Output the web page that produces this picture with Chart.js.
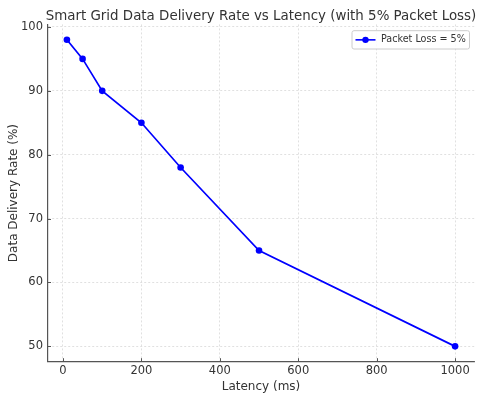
<!DOCTYPE html>
<html>
<head>
<meta charset="utf-8">
<script src="https://cdn.jsdelivr.net/npm/chart.js@4/dist/chart.umd.min.js"></script>
<style>
  html, body { margin: 0; padding: 0; background: #ffffff; }
  #c { display: block; }
</style>
</head>
<body>
<canvas id="c" width="480" height="396"></canvas>
<script>
const latency = [10, 50, 100, 200, 300, 500, 1000];
const deliveryRate = [98, 95, 90, 85, 78, 65, 50];
const seriesLabel = 'Packet Loss = 5%';
const xTicks = [0, 200, 400, 600, 800, 1000];
const yTicks = [50, 60, 70, 80, 90, 100];
const titleText = 'Smart Grid Data Delivery Rate vs Latency (with 5% Packet Loss)';
const xTitle = 'Latency (ms)';
const yTitle = 'Data Delivery Rate (%)';

const FONT = "'DejaVu Sans', sans-serif";
const TEXT = '#333333';
const SPINE = '#555555';
const LINE = '#0000ff';

const decorations = {
  id: 'decorations',
  afterDraw(chart) {
    const ctx = chart.ctx;
    const a = chart.chartArea;
    ctx.save();
    // title, centred over the plot area
    ctx.fillStyle = TEXT;
    ctx.textAlign = 'center';
    ctx.textBaseline = 'alphabetic';
    ctx.font = '13.4px ' + FONT;
    ctx.fillText(titleText, (a.left + a.right) / 2, 19.5);
    // inward tick marks
    ctx.strokeStyle = SPINE;
    ctx.lineWidth = 1;
    const xs = chart.scales.x, ys = chart.scales.y;
    xs.ticks.forEach(t => {
      const px = Math.round(xs.getPixelForValue(t.value)) + 0.5;
      ctx.beginPath(); ctx.moveTo(px, a.bottom); ctx.lineTo(px, a.bottom - 3.5); ctx.stroke();
    });
    ys.ticks.forEach(t => {
      const py = Math.round(ys.getPixelForValue(t.value)) + 0.5;
      ctx.beginPath(); ctx.moveTo(a.left, py); ctx.lineTo(a.left + 3.5, py); ctx.stroke();
    });
    // legend box inside the plot, upper right
    const bx1 = a.right - 5.5, bx0 = bx1 - 117.5;
    const by0 = a.top + 5.8, by1 = by0 + 18.3;
    ctx.fillStyle = 'rgba(255,255,255,0.85)';
    ctx.strokeStyle = '#cccccc';
    ctx.lineWidth = 1;
    ctx.beginPath();
    if (ctx.roundRect) ctx.roundRect(bx0 + 0.5, by0 + 0.5, bx1 - bx0, by1 - by0, 2);
    else ctx.rect(bx0 + 0.5, by0 + 0.5, bx1 - bx0, by1 - by0);
    ctx.fill(); ctx.stroke();
    const cy = (by0 + by1) / 2 + 0.5;
    ctx.strokeStyle = LINE; ctx.lineWidth = 1.6;
    ctx.beginPath(); ctx.moveTo(bx0 + 4, cy); ctx.lineTo(bx0 + 24, cy); ctx.stroke();
    ctx.fillStyle = LINE;
    ctx.beginPath(); ctx.arc(bx0 + 14, cy, 3.2, 0, Math.PI * 2); ctx.fill();
    ctx.fillStyle = TEXT;
    ctx.font = '9.6px ' + FONT;
    ctx.textBaseline = 'middle';
    ctx.textAlign = 'left';
    ctx.fillText(chart.data.datasets[0].label, bx0 + 29.5, cy);
    ctx.restore();
  }
};

new Chart(document.getElementById('c'), {
  type: 'line',
  data: {
    datasets: [{
      label: seriesLabel,
      data: latency.map((x, i) => ({ x: x, y: deliveryRate[i] })),
      borderColor: LINE,
      backgroundColor: LINE,
      borderWidth: 1.7,
      pointRadius: 3.3,
      pointHoverRadius: 3.3,
      pointBorderWidth: 0,
      tension: 0,
      fill: false
    }]
  },
  options: {
    responsive: false,
    animation: false,
    devicePixelRatio: 1,
    layout: { padding: { left: 0, right: 5.5, top: 24.4, bottom: 0 } },
    plugins: {
      legend: { display: false },
      tooltip: { enabled: false },
      title: { display: false }
    },
    scales: {
      x: {
        type: 'linear',
        min: -39.5,
        max: 1049.5,
        afterBuildTicks: s => { s.ticks = xTicks.map(v => ({ value: v })); },
        afterFit: s => { s.height = 34.3; },
        grid: { color: '#d9d9d9', lineWidth: 0.8, drawTicks: false },
        border: { display: true, color: SPINE, width: 1.2, dash: [2, 2] },
        ticks: { color: TEXT, font: { family: FONT, size: 11.5 }, padding: 2.5, maxRotation: 0, callback: v => String(v) },
        title: { display: true, text: xTitle, color: TEXT, font: { family: FONT, size: 12 }, padding: { top: 0, bottom: 1.8 } }
      },
      y: {
        type: 'linear',
        min: 47.6,
        max: 100.4,
        afterBuildTicks: s => { s.ticks = yTicks.map(v => ({ value: v })); },
        afterFit: s => { s.width = 47.5; },
        grid: { color: '#d9d9d9', lineWidth: 0.8, drawTicks: false },
        border: { display: true, color: SPINE, width: 1.2, dash: [2, 2] },
        ticks: { color: TEXT, font: { family: FONT, size: 11.5 }, padding: 4.5, callback: v => String(v) },
        title: { display: true, text: yTitle, color: TEXT, font: { family: FONT, size: 12 }, padding: { top: 6.8, bottom: 0 } }
      }
    }
  },
  plugins: [decorations]
});
</script>
</body>
</html>
